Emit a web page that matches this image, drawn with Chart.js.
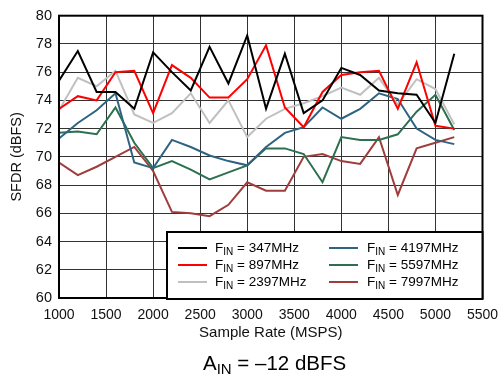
<!DOCTYPE html>
<html>
<head>
<meta charset="utf-8">
<script src="https://cdn.jsdelivr.net/npm/chart.js@4"></script>
<style>
  html, body { margin: 0; padding: 0; background: #fff; }
  #wrap { width: 498px; height: 377px; }
</style>
</head>
<body>
<div id="wrap"><canvas id="lineChart" width="498" height="377"></canvas></div>
<script>
// sample rates (MSPS)
const rates = [1000, 1200, 1400, 1600, 1800, 2000, 2200, 2400, 2600, 2800, 3000,
               3200, 3400, 3600, 3800, 4000, 4200, 4400, 4600, 4800, 5000, 5200];

const sfdr347  = [75.4, 77.5, 74.6, 74.6, 73.4, 77.4, 76.0, 74.7, 77.8, 75.2, 78.6,
                  73.4, 77.3, 73.1, 74.0, 76.3, 75.8, 74.7, 74.5, 74.4, 72.4, 77.3];
const sfdr897  = [73.4, 74.3, 74.0, 76.0, 76.1, 73.1, 76.5, 75.6, 74.2, 74.2, 75.5,
                  77.9, 73.5, 72.1, 74.6, 75.8, 76.0, 76.1, 73.4, 76.7, 72.2, 72.0];
const sfdr2397 = [73.3, 75.6, 75.0, 76.1, 73.0, 72.4, 73.1, 74.5, 72.4, 74.0, 71.4,
                  72.7, 73.4, 73.8, 74.3, 74.9, 74.4, 75.6, 73.7, 75.5, 74.8, 72.3];
const sfdr4197 = [71.3, 72.4, 73.3, 74.5, 69.6, 69.2, 71.2, 70.7, 70.1, 69.7, 69.4,
                  70.7, 71.7, 72.1, 73.5, 72.7, 73.4, 74.5, 74.1, 72.0, 71.2, 70.9];
const sfdr5597 = [71.7, 71.8, 71.6, 73.5, 71.0, 69.2, 69.7, 69.1, 68.4, 68.9, 69.4,
                  70.6, 70.6, 70.2, 68.2, 71.4, 71.2, 71.2, 71.6, 73.2, 74.4, 71.9];
const sfdr7997 = [69.6, 68.7, 69.3, 70.0, 70.7, 69.0, 66.1, 66.0, 65.8, 66.6, 68.2,
                  67.6, 67.6, 70.0, 70.2, 69.7, 69.5, 71.4, 67.3, 70.6, 71.0, 71.4];

const seriesNames = ['347MHz', '897MHz', '2397MHz', '4197MHz', '5597MHz', '7997MHz'];
const seriesData = [sfdr347, sfdr897, sfdr2397, sfdr4197, sfdr5597, sfdr7997];
const seriesColors = ['#000000', '#ff0000', '#c0c0c0', '#2e6482', '#2c7050', '#a03c3c'];

const xTicks = [1000, 1500, 2000, 2500, 3000, 3500, 4000, 4500, 5000, 5500];
const yTicks = [60, 62, 64, 66, 68, 70, 72, 74, 76, 78, 80];

const FONT = 'Liberation Sans, Arial, Helvetica, sans-serif';

// frame around plot area
const framePlugin = {
  id: 'frame',
  afterDatasetsDraw(chart) {
    const {ctx, chartArea: a} = chart;
    ctx.save();
    ctx.strokeStyle = '#000';
    ctx.lineWidth = 2;
    ctx.strokeRect(a.left, a.top, a.right - a.left, a.bottom - a.top);
    ctx.restore();
  }
};

// draws "F" + subscript "IN" + rest
function subText(ctx, x, y, main, sub, rest, size, subSize, drop) {
  ctx.font = size + 'px ' + FONT;
  ctx.fillText(main, x, y);
  x += ctx.measureText(main).width;
  ctx.font = subSize + 'px ' + FONT;
  ctx.fillText(sub, x, y + drop);
  x += ctx.measureText(sub).width;
  ctx.font = size + 'px ' + FONT;
  ctx.fillText(rest, x, y);
}

const legendPlugin = {
  id: 'boxLegend',
  afterDraw(chart) {
    const ctx = chart.ctx;
    const a = chart.chartArea;
    const bx = 167, by = 232, bw = a.right - 167, bh = a.bottom + 1 - 232;
    ctx.save();
    ctx.fillStyle = '#fff';
    ctx.fillRect(bx, by, bw, bh);
    ctx.strokeStyle = '#000';
    ctx.lineWidth = 2;
    ctx.strokeRect(bx, by, bw, bh);
    const cols = [{lx: 178, tx: 215}, {lx: 329, tx: 367}];
    const rows = [248, 265, 282];
    ctx.textBaseline = 'middle';
    seriesNames.forEach((name, i) => {
      const c = cols[Math.floor(i / 3)];
      const y = rows[i % 3];
      ctx.strokeStyle = seriesColors[i];
      ctx.lineWidth = 2;
      ctx.beginPath();
      ctx.moveTo(c.lx, y);
      ctx.lineTo(c.lx + 29, y);
      ctx.stroke();
      ctx.fillStyle = '#000';
      subText(ctx, c.tx, y, 'F', 'IN', ' = ' + name, 13.5, 10, 4);
    });
    // caption under chart
    ctx.textBaseline = 'alphabetic';
    ctx.fillStyle = '#000';
    subText(ctx, 203, 370, 'A', 'IN', ' = \u201312 dBFS', 20.5, 15, 4);
    ctx.restore();
  }
};

const ctx = document.getElementById('lineChart').getContext('2d');
new Chart(ctx, {
  type: 'line',
  data: {
    datasets: seriesNames.map((n, i) => ({
      label: 'FIN = ' + n,
      data: rates.map((r, k) => ({x: r, y: seriesData[i][k]})),
      borderColor: seriesColors[i],
      backgroundColor: seriesColors[i],
      borderWidth: 2,
      pointRadius: 0,
      tension: 0,
      fill: false
    }))
  },
  options: {
    responsive: false,
    animation: false,
    layout: { padding: { top: 13, right: 15.5, left: 0, bottom: 0 } },
    plugins: { legend: { display: false }, tooltip: { enabled: false } },
    scales: {
      x: {
        type: 'linear',
        min: 1000, max: 5500,
        afterBuildTicks: s => { s.ticks = xTicks.map(v => ({value: v})); },
        afterFit: s => { s.height = 79; s.paddingRight = 0; s.paddingLeft = 0; },
        grid: { color: '#333', lineWidth: 1, drawTicks: false },
        border: { display: false },
        ticks: { font: { family: FONT, size: 14 }, color: '#111', padding: 9, maxRotation: 0,
                 autoSkip: false, callback: v => String(v) },
        title: { display: true, text: 'Sample Rate (MSPS)', font: { family: FONT, size: 15 },
                 color: '#111', padding: { bottom: 35, top: 0 } }
      },
      y: {
        min: 60, max: 80,
        afterBuildTicks: s => { s.ticks = yTicks.map(v => ({value: v})); },
        afterFit: s => { s.width = 59; },
        grid: { color: '#333', lineWidth: 1, drawTicks: false },
        border: { display: false },
        ticks: { font: { family: FONT, size: 14.5 }, color: '#111', padding: 7 },
        title: { display: true, text: 'SFDR (dBFS)', font: { family: FONT, size: 14.5 },
                 color: '#111', padding: { top: 8, bottom: 0 } }
      }
    }
  },
  plugins: [framePlugin, legendPlugin]
});
</script>
</body>
</html>
